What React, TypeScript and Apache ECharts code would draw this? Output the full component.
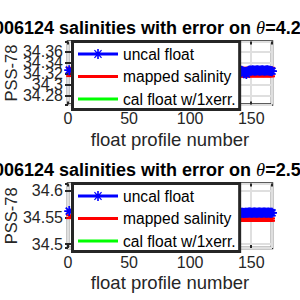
import React, { useEffect, useRef } from 'react';
import * as echarts from 'echarts';

// ---- data ----
const profiles = [1, 140, 141, 142, 143, 144, 145, 146, 147, 148, 149, 150, 151, 152, 153, 154, 155, 156, 157, 158, 159, 160, 161, 162, 163, 164, 165, 166, 167];

const topUncal = [34.3262, 34.325, 34.3245, 34.325, 34.324, 34.3205, 34.3225, 34.319, 34.3235, 34.325,
  34.3256, 34.3252, 34.326, 34.3256, 34.3252, 34.3256, 34.326, 34.3256, 34.3252, 34.3256,
  34.326, 34.3256, 34.3252, 34.3256, 34.326, 34.3256, 34.3252, 34.3245, 34.3243];
const topMapped = [34.323, 34.3227, 34.3227, 34.3226, 34.3226, 34.3225, 34.3225, 34.3226, 34.3226, 34.3227,
  34.3227, 34.3227, 34.3228, 34.3228, 34.3227, 34.3227, 34.3227, 34.3228, 34.3228, 34.3227,
  34.3227, 34.3227, 34.3227, 34.3228, 34.3228, 34.3227, 34.3227, 34.3227, 34.3227];
const topMappedErr = [0.0077, 0.0078, 0.0078, 0.0078, 0.0078, 0.0078, 0.0078, 0.0078, 0.0078, 0.0078,
  0.0078, 0.0078, 0.0078, 0.0078, 0.0078, 0.0078, 0.0078, 0.0078, 0.0078, 0.0078,
  0.0078, 0.0078, 0.0078, 0.0078, 0.0078, 0.0078, 0.0078, 0.0078, 0.0078];
const topCal: number[][] = [];

const botUncal = [34.562, 34.5588, 34.5592, 34.559, 34.5587, 34.5585, 34.5589, 34.5591, 34.559, 34.5592,
  34.5593, 34.559, 34.5591, 34.5594, 34.5592, 34.559, 34.5591, 34.5593, 34.5592, 34.559,
  34.5591, 34.5593, 34.5592, 34.559, 34.5591, 34.5592, 34.559, 34.5589, 34.5588];
const botMapped = [34.5515, 34.546, 34.546, 34.546, 34.546, 34.546, 34.546, 34.546, 34.546, 34.546,
  34.546, 34.546, 34.546, 34.546, 34.546, 34.546, 34.546, 34.546, 34.546, 34.546,
  34.546, 34.546, 34.546, 34.546, 34.546, 34.546, 34.546, 34.546, 34.546];
const botMappedErr = [0.0028, 0.0022, 0.0022, 0.0022, 0.0022, 0.0022, 0.0022, 0.0022, 0.0022, 0.0022,
  0.0022, 0.0022, 0.0022, 0.0022, 0.0022, 0.0022, 0.0022, 0.0022, 0.0022, 0.0022,
  0.0022, 0.0022, 0.0022, 0.0022, 0.0022, 0.0022, 0.0022, 0.0022, 0.0022];
const botCal: number[][] = [];

const xTicks = [0, 50, 100, 150];
const topYRange = [34.263, 34.379];
const botYRange = [34.4925, 34.614];
const titles = ['4.2', '2.5'];
const legendNames = ['uncal float', 'mapped salinity', 'cal float w/1xerr.'];

// ---- styles ----
const AX = '#262626';
const GRID = '#dfdfdf';
const FONT = "'Liberation Sans', Arial, Helvetica, sans-serif";
const BLUE = '#0000ff';
const RED = '#ff0000';
const GREEN = '#00ff00';

const gridsPos = [
  { left: 68, top: 41.5, width: 204, height: 63 },
  { left: 68, top: 183.5, width: 204, height: 64.5 },
];

function buildOption() {
  const grids = gridsPos.map((g) => ({
    ...g,
    show: true,
    borderColor: AX,
    borderWidth: 2.5,
    backgroundColor: '#fff',
    containLabel: false,
    outerBoundsMode: 'none',
  }));

  const xAxes: any[] = [];
  const yAxes: any[] = [];
  const yRanges = [topYRange, botYRange];
  const splitNums = [5, 3];
  [0, 1].forEach((g) => {
    xAxes.push({
      type: 'value', gridIndex: g, min: 0, max: 167, interval: 50, position: 'bottom',
      axisLine: { show: false },
      axisTick: { show: true, inside: true, length: 3, lineStyle: { color: AX, width: 2 } },
      axisLabel: {
        margin: 6, color: AX, fontSize: 16, fontFamily: FONT, showMaxLabel: false,
        formatter: (v: number) => (xTicks.indexOf(v) >= 0 ? String(v) : ''),
      },
      splitLine: { show: true, lineStyle: { color: GRID, width: 2 } },
      name: 'float profile number', nameLocation: 'middle', nameGap: 25,
      nameTextStyle: { fontSize: 18.5, color: AX, fontFamily: FONT },
    });
    xAxes.push({
      type: 'value', gridIndex: g, min: 0, max: 167, interval: 50, position: 'top',
      axisLine: { show: false },
      axisTick: { show: true, inside: true, length: 3, lineStyle: { color: AX, width: 2 } },
      axisLabel: { show: false }, splitLine: { show: false },
    });
    const r = yRanges[g];
    yAxes.push({
      type: 'value', gridIndex: g, min: r[0], max: r[1], splitNumber: splitNums[g], position: 'left',
      axisLine: { show: false },
      axisTick: { show: true, inside: true, length: 3, lineStyle: { color: AX, width: 2 } },
      axisLabel: {
        margin: 5, color: AX, fontSize: 16, fontFamily: FONT, showMinLabel: false, showMaxLabel: false,
        formatter: (v: number) => (v === r[0] || v === r[1] ? '' : String(v)),
      },
      splitLine: { show: true, lineStyle: { color: GRID, width: 2 } },
      name: 'PSS-78', nameLocation: 'middle', nameGap: 49, nameMoveOverlap: false,
      nameTextStyle: { fontSize: 16.5, color: AX, fontFamily: FONT },
    });
    yAxes.push({
      type: 'value', gridIndex: g, min: r[0], max: r[1], splitNumber: splitNums[g], position: 'right',
      axisLine: { show: false },
      axisTick: { show: true, inside: true, length: 3, lineStyle: { color: AX, width: 2 } },
      axisLabel: { show: false }, splitLine: { show: false },
    });
  });

  const asterisk = 'path://M5,0V10M0,5H10M1.5,1.5L8.5,8.5M1.5,8.5L8.5,1.5';
  const sets = [
    { uncal: topUncal, mapped: topMapped, err: topMappedErr, cal: topCal },
    { uncal: botUncal, mapped: botMapped, err: botMappedErr, cal: botCal },
  ];
  const series: any[] = [];
  sets.forEach((s, g) => {
    const xi = 2 * g;
    const yi = 2 * g;
    series.push({
      type: 'custom', name: 'mapped err', xAxisIndex: xi, yAxisIndex: yi, z: 3, clip: false,
      data: profiles.map((p, i) => [p, s.mapped[i] - s.err[i], s.mapped[i] + s.err[i]]),
      encode: { x: 0, y: [1, 2] },
      renderItem: (params: any, api: any) => {
        const x = api.value(0);
        const lo = api.coord([x, api.value(1)]);
        const hi = api.coord([x, api.value(2)]);
        const cw = 3;
        const style = { stroke: RED, lineWidth: 2 };
        return {
          type: 'group',
          children: [
            { type: 'line', shape: { x1: lo[0], y1: lo[1], x2: hi[0], y2: hi[1] }, style },
            { type: 'line', shape: { x1: lo[0] - cw, y1: lo[1], x2: lo[0] + cw, y2: lo[1] }, style },
            { type: 'line', shape: { x1: hi[0] - cw, y1: hi[1], x2: hi[0] + cw, y2: hi[1] }, style },
          ],
        };
      },
    });
    series.push({
      type: 'line', name: 'mapped salinity', xAxisIndex: xi, yAxisIndex: yi, z: 3, clip: false,
      data: profiles.map((p, i) => [p, s.mapped[i]]),
      symbol: 'none', lineStyle: { color: RED, width: 2.5 }, itemStyle: { color: RED },
    });
    series.push({
      type: 'line', name: 'uncal float', xAxisIndex: xi, yAxisIndex: yi, z: 5, clip: false,
      data: profiles.map((p, i) => [p, s.uncal[i]]),
      symbol: asterisk, symbolSize: 10, showSymbol: true,
      lineStyle: { color: BLUE, width: 2.5 },
      itemStyle: { color: BLUE, borderColor: BLUE, borderWidth: 1.8 },
    });
    series.push({
      type: 'line', name: 'cal float w/1xerr.', xAxisIndex: xi, yAxisIndex: yi, z: 6, clip: false,
      data: s.cal, symbol: 'none', lineStyle: { color: GREEN, width: 2.5 }, itemStyle: { color: GREEN },
    });
  });

  const uncalIcon = 'path://M0,3.5H40V6.5H0Z M19.2,0H20.8V10H19.2Z M16,1.6L16.9,0.8L24,8.4L23.1,9.2Z M23.1,0.8L24,1.6L16.9,9.2L16,8.4Z';
  const barIcon = 'path://M0,0H40V3H0Z';
  const legends = gridsPos.map((g) => ({
    orient: 'vertical', left: 72.5, top: g.top, itemWidth: 40, itemHeight: 14, itemGap: 6.5,
    padding: [4.5, 4, 2.5, 5.5], borderColor: AX, borderWidth: 3, backgroundColor: '#fff',
    selectedMode: false, z: 10,
    itemStyle: { borderWidth: 0 },
    textStyle: { fontSize: 15.6, fontFamily: FONT, color: '#000', lineHeight: 14 },
    data: [
      { name: legendNames[0], icon: uncalIcon },
      { name: legendNames[1], icon: barIcon },
      { name: legendNames[2], icon: barIcon },
    ],
  }));

  const titleYs = [28, 170];
  const graphic = titles.map((t, i) => ({
    type: 'text', x: -6, y: titleYs[i], z: 20,
    style: {
      text: `{b|006124 salinities with error on }{t|θ}{b|=${t}}`,
      verticalAlign: 'middle',
      rich: {
        b: { fontSize: 18, fontWeight: 'bold', fontFamily: FONT, fill: '#000' },
        t: { fontSize: 18.5, fontStyle: 'italic', fontFamily: "'Liberation Serif', serif", fill: '#000' },
      },
    },
  }));

  return {
    animation: false,
    grid: grids,
    xAxis: xAxes,
    yAxis: yAxes,
    series,
    legend: legends,
    graphic,
  };
}

export default function App() {
  const ref = useRef<HTMLDivElement>(null);
  useEffect(() => {
    if (!ref.current) return;
    const chart = echarts.init(ref.current, undefined, { renderer: 'svg' });
    chart.setOption(buildOption() as any);
    return () => chart.dispose();
  }, []);
  return <div ref={ref} style={{ position: 'fixed', left: 0, top: 0, width: 300, height: 300, background: '#fff' }} />;
}
